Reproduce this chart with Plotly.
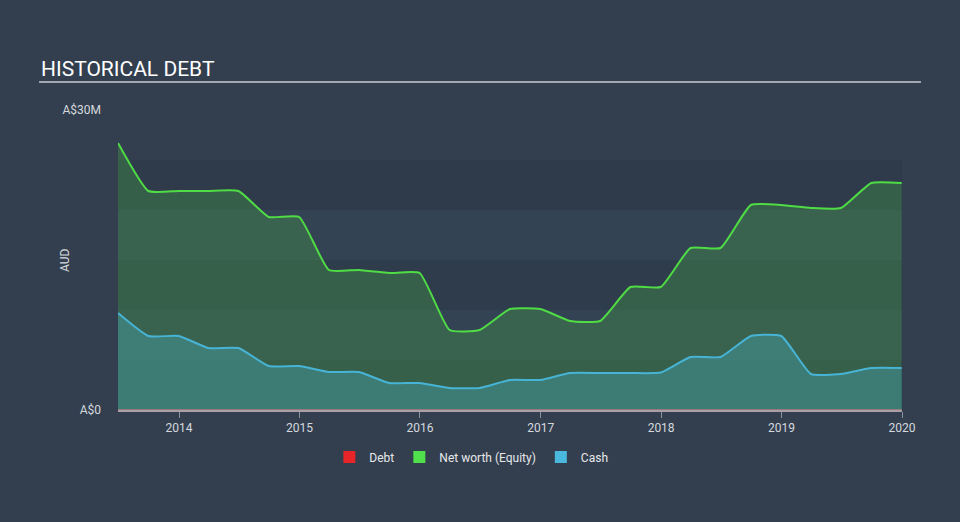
import plotly.graph_objects as go

dates = ["2013-06-30", "2013-09-30", "2013-12-31", "2014-03-31", "2014-06-30", "2014-09-30",
         "2014-12-31", "2015-03-31", "2015-06-30", "2015-09-30", "2015-12-31", "2016-03-31",
         "2016-06-30", "2016-09-30", "2016-12-31", "2017-03-31", "2017-06-30", "2017-09-30",
         "2017-12-31", "2018-03-31", "2018-06-30", "2018-09-30", "2018-12-31", "2019-03-31",
         "2019-06-30", "2019-09-30", "2019-12-31"]
equity = [26.7, 21.9, 21.9, 21.9, 21.9, 19.3, 19.3, 14.0, 14.0, 13.7, 13.7, 8.0, 8.0, 10.1,
          10.1, 8.9, 8.9, 12.3, 12.3, 16.2, 16.2, 20.5, 20.5, 20.2, 20.2, 22.7, 22.7]
cash = [9.7, 7.4, 7.4, 6.2, 6.2, 4.4, 4.4, 3.8, 3.8, 2.7, 2.7, 2.2, 2.2, 3.0, 3.0, 3.7, 3.7,
        3.7, 3.75, 5.3, 5.3, 7.4, 7.4, 3.6, 3.6, 4.2, 4.2]
debt = [0.0] * len(dates)

BG = "#333f4f"
SM = 0.45
fig = go.Figure()

# bands
band_cols = ["#2f3b4b", "#344354", "#2f3c4c", "#344354", "#2f3c4c"]
for i, c in enumerate(band_cols):
    lo = 20 - 5 * i
    fig.add_shape(type="rect", xref="paper", yref="y", x0=0, x1=1, y0=lo, y1=lo + 5,
                  fillcolor=c, line_width=0, layer="below")

fig.add_trace(go.Scatter(x=dates, y=equity, mode="lines", fill="tozeroy",
                         fillcolor="rgba(64,140,72,0.45)",
                         line=dict(color="#4fdc45", width=2, shape="spline", smoothing=SM),
                         showlegend=False, hoverinfo="skip"))
fig.add_trace(go.Scatter(x=dates, y=cash, mode="lines", fill="tozeroy",
                         fillcolor="rgba(68,160,170,0.45)",
                         line=dict(color="#47b4d6", width=2, shape="spline", smoothing=SM),
                         showlegend=False, hoverinfo="skip"))
fig.add_trace(go.Scatter(x=dates, y=debt, mode="lines",
                         line=dict(color="rgba(230,120,130,0.7)", width=1.5),
                         showlegend=False, hoverinfo="skip"))

# legend entries
for name, col in [("Debt", "#e8262a"), ("Net worth (Equity)", "#4fe04c"), ("Cash", "#4ab8dc")]:
    fig.add_trace(go.Scatter(x=[None], y=[None], mode="markers", name=name,
                             marker=dict(symbol="square", size=15, color=col)))

fig.update_layout(
    width=960, height=522,
    paper_bgcolor=BG, plot_bgcolor=BG,
    margin=dict(l=118, r=58, t=110, b=112, autoexpand=False),
    font=dict(family="Roboto, sans-serif", color="#d5d9de", size=12),
    showlegend=True,
    legend=dict(orientation="h", xref="container", yref="paper", x=0.491, xanchor="center",
                y=-0.157, yanchor="middle", font=dict(size=12, color="#e6e8ea"),
                itemsizing="constant", itemwidth=30, bgcolor="rgba(0,0,0,0)"),
    xaxis=dict(type="date", range=["2013-06-30", "2020-01-01"], tick0="2014-01-01", dtick="M12",
               tickformat="%Y", showgrid=False, zeroline=False, showline=True, automargin=False,
               linecolor="#a8a0a6", linewidth=2, ticks="outside", ticklen=6, tickcolor="#8a939d",
               tickfont=dict(size=12, color="#d5d9de")),
    yaxis=dict(range=[0, 30], tickvals=[0, 30], ticktext=["A$0", "A$30M"], showgrid=False,
               zeroline=False, showline=False, ticks="", ticklabelstandoff=16, automargin=False,
               tickfont=dict(size=12, color="#d5d9de")),
)
fig.add_annotation(text="AUD", xref="paper", yref="paper", x=-0.0676, y=0.5, textangle=-90,
                   xanchor="center", yanchor="middle", showarrow=False,
                   font=dict(size=12, color="#d5d9de", family="Roboto, sans-serif"))
fig.add_shape(type="line", xref="paper", yref="paper", x0=-0.1007, x1=1.0242, y0=1.093, y1=1.093,
              line=dict(color="#a3a8ae", width=2))
fig.add_annotation(text="HISTORICAL DEBT", xref="paper", yref="paper", x=-0.1007, y=1.1367,
                   xanchor="left", yanchor="middle", showarrow=False,
                   font=dict(size=21, color="#ffffff", family="Roboto, sans-serif"))

fig.write_html("out.html", config={"displayModeBar": False},
               post_script="document.body.style.margin='0';document.body.style.padding='0';"
                           "document.documentElement.style.overflow='hidden';")
